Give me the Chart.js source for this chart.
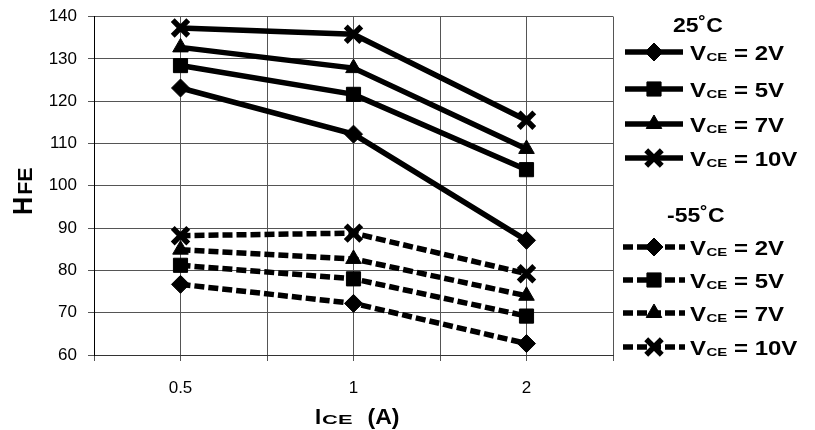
<!DOCTYPE html>
<html>
<head>
<meta charset="utf-8">
<script src="https://cdn.jsdelivr.net/npm/chart.js@4.4.1/dist/chart.umd.min.js"></script>
<style>
html,body{margin:0;padding:0;background:#fff;}
#wrap{width:815px;height:430px;position:relative;}
</style>
</head>
<body>
<div id="wrap"><canvas id="c"></canvas></div>
<script>
// ---- data ----
const categories = ["0.5", "1", "2"];           // ICE (A)
const temps = ["25˚C", "-55˚C"];
const vceLabels = ["2V", "5V", "7V", "10V"];
const hfe25_2V  = [123.1, 112.2, 87.1];
const hfe25_5V  = [128.4, 121.6, 103.8];
const hfe25_7V  = [132.7, 127.8, 108.7];
const hfe25_10V = [137.3, 135.8, 115.5];
const hfeM55_2V  = [76.7, 72.2, 62.7];
const hfeM55_5V  = [81.2, 78.0, 69.2];
const hfeM55_7V  = [84.9, 82.7, 74.0];
const hfeM55_10V = [88.2, 88.8, 79.2];
const yMin = 60, yMax = 140, yStep = 10;

// ---- styles ----
const markers = [
  {pointStyle: 'rectRot', radius: 9, borderWidth: 1},
  {pointStyle: 'rect', radius: 10, borderWidth: 1},
  {pointStyle: 'triangle', radius: 9, borderWidth: 1},
  {pointStyle: 'crossRot', radius: 11, borderWidth: 5.5}
];
const DASH = [10, 4];
const groups = [
  {temp: temps[0], series: [hfe25_2V, hfe25_5V, hfe25_7V, hfe25_10V], dash: []},
  {temp: temps[1], series: [hfeM55_2V, hfeM55_5V, hfeM55_7V, hfeM55_10V], dash: DASH}
];

const datasets = [];
groups.forEach(g => {
  g.series.forEach((vals, i) => {
    const m = markers[i];
    datasets.push({
      label: g.temp + ' VCE = ' + vceLabels[i],
      data: vals.map((v, k) => ({x: k + 0.5, y: v})),
      borderColor: '#000',
      backgroundColor: '#000',
      borderWidth: 5.5,
      borderDash: g.dash,
      pointStyle: m.pointStyle,
      pointRadius: m.radius,
      pointBorderWidth: m.borderWidth,
      pointBackgroundColor: '#000',
      pointBorderColor: '#000',
      pointHoverRadius: m.radius,
      tension: 0,
      fill: false
    });
  });
});

const FONT = "'Liberation Sans', Arial, sans-serif";
Chart.defaults.font.family = FONT;
Chart.defaults.color = '#000';

function drawRich(ctx, x, y, parts) {
  let cx = x;
  for (const p of parts) {
    cx += p.gap || 0;
    ctx.save();
    ctx.font = p.font;
    const w = ctx.measureText(p.t).width;
    ctx.translate(cx, y + (p.dy || 0));
    ctx.scale(p.sx || 1, 1);
    ctx.textAlign = 'left';
    ctx.textBaseline = 'alphabetic';
    ctx.fillStyle = '#000';
    ctx.fillText(p.t, 0, 0);
    ctx.restore();
    cx += w * (p.sx || 1);
  }
  return cx;
}

function drawMarker(ctx, m, x, y) {
  ctx.save();
  ctx.setLineDash([]);
  ctx.fillStyle = '#000';
  ctx.strokeStyle = '#000';
  ctx.lineWidth = m.borderWidth;
  Chart.helpers.drawPoint(ctx, {pointStyle: m.pointStyle, radius: m.radius, borderWidth: m.borderWidth, rotation: 0}, x, y);
  ctx.restore();
}

const decor = {
  id: 'decor',
  afterDraw(chart) {
    const ctx = chart.ctx;
    // y title
    ctx.save();
    ctx.translate(32, 215);
    ctx.rotate(-Math.PI / 2);
    drawRich(ctx, 0, 0, [
      {t: 'H', font: "bold 28px " + FONT, sx: 0.9},
      {t: 'FE', font: "bold 19.5px " + FONT, sx: 1.1, gap: 2}
    ]);
    ctx.restore();
    // x title
    drawRich(ctx, 315, 424, [
      {t: 'I', font: "bold 22px " + FONT, sx: 1.0},
      {t: 'CE', font: "bold 12.5px " + FONT, sx: 1.75, gap: 1},
      {t: '(A)', font: "bold 22px " + FONT, sx: 1.05, gap: 15}
    ]);
    // legend
    const layout = [
      {titleX: 673, titleBase: 32, rows: [52, 89, 124, 158]},
      {titleX: 667, titleBase: 222, rows: [247, 280, 313, 347]}
    ];
    groups.forEach((g, gi) => {
      const L = layout[gi];
      drawRich(ctx, L.titleX, L.titleBase, [{t: g.temp, font: "bold 20px " + FONT, sx: 1.15}]);
      L.rows.forEach((ry, i) => {
        ctx.save();
        ctx.strokeStyle = '#000';
        ctx.lineWidth = 5.5;
        ctx.setLineDash(g.dash);
        ctx.beginPath();
        if (g.dash.length) { ctx.moveTo(623, ry); ctx.lineTo(685, ry); }
        else { ctx.moveTo(625, ry); ctx.lineTo(683, ry); }
        ctx.stroke();
        ctx.restore();
        drawMarker(ctx, markers[i], 654, ry);
        drawRich(ctx, 690, ry + 8, [
          {t: 'V', font: "bold 20px " + FONT, sx: 1.2},
          {t: 'CE', font: "bold 11.5px " + FONT, sx: 1.3, dy: 1, gap: 0.5},
          {t: ' = ' + vceLabels[i], font: "bold 20px " + FONT, sx: 1.2}
        ]);
      });
    });
  }
};

new Chart(document.getElementById('c'), {
  type: 'line',
  data: {datasets},
  options: {
    responsive: true,
    maintainAspectRatio: false,
    animation: false,
    layout: {padding: {top: 15, right: 202, left: 0, bottom: 0}},
    plugins: {legend: {display: false}, tooltip: {enabled: false}},
    scales: {
      x: {
        type: 'linear',
        min: 0, max: categories.length,
        afterFit: s => { s.height = 75; s.paddingLeft = 0; s.paddingRight = 0; },
        ticks: {
          stepSize: 0.5,
          autoSkip: false,
          maxRotation: 0,
          padding: 17,
          font: {size: 17},
          color: '#000',
          callback: v => {
            const k = v - 0.5;
            return (Number.isInteger(k) && categories[k] !== undefined) ? categories[k] : '';
          }
        },
        grid: {color: '#555', lineWidth: 1, tickLength: 6},
        border: {color: '#333', width: 1}
      },
      y: {
        min: yMin, max: yMax,
        afterFit: s => { s.width = 94; s.paddingTop = 0; s.paddingBottom = 0; },
        ticks: {stepSize: yStep, padding: 11, font: {size: 17}, color: '#000'},
        grid: {color: '#555', lineWidth: 1, tickLength: 6},
        border: {color: '#000', width: 1}
      }
    }
  },
  plugins: [decor]
});
</script>
</body>
</html>
